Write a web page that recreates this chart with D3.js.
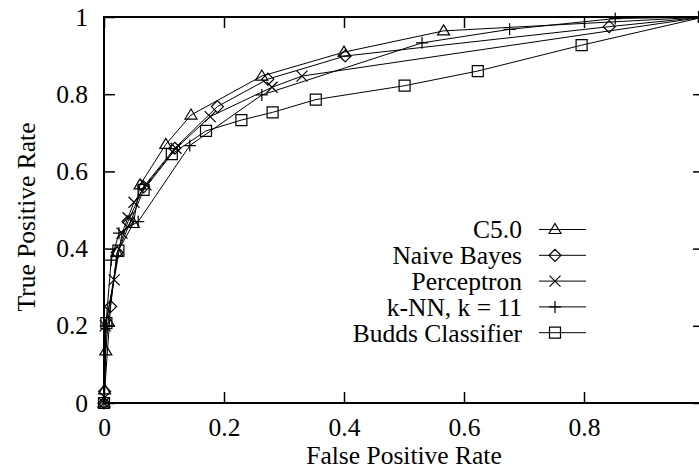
<!DOCTYPE html>
<html>
<head>
<meta charset="utf-8">
<script src="https://cdn.jsdelivr.net/npm/d3@7"></script>
<style>
  html, body { margin: 0; padding: 0; background: #fff; }
  svg { display: block; }
</style>
</head>
<body>
<svg id="chart" width="699" height="470"></svg>
<script>
// ---- data (False Positive Rate, True Positive Rate) ----
const seriesNames = ["C5.0", "Naive Bayes", "Perceptron", "k-NN, k = 11", "Budds Classifier"];
const seriesSymbols = ["triangle", "diamond", "cross", "plus", "square"];

const c50Fpr = [0, 0.001, 0.003, 0.007, 0.022, 0.049, 0.060, 0.103, 0.145, 0.263, 0.400, 0.566, 1];
const c50Tpr = [0, 0.034, 0.135, 0.210, 0.390, 0.465, 0.565, 0.670, 0.746, 0.847, 0.909, 0.964, 1];

const nbFpr = [0, 0.001, 0.011, 0.022, 0.040, 0.066, 0.118, 0.189, 0.273, 0.402, 0.842, 1];
const nbTpr = [0, 0.030, 0.250, 0.390, 0.470, 0.560, 0.660, 0.768, 0.839, 0.899, 0.975, 1];

const percFpr = [0, 0.002, 0.017, 0.030, 0.040, 0.050, 0.070, 0.120, 0.177, 0.280, 0.330, 1];
const percTpr = [0, 0.200, 0.319, 0.440, 0.480, 0.520, 0.565, 0.660, 0.742, 0.818, 0.847, 1];

const knnFpr = [0, 0.003, 0.012, 0.025, 0.057, 0.143, 0.263, 0.530, 0.676, 0.852, 1];
const knnTpr = [0, 0.200, 0.370, 0.440, 0.470, 0.667, 0.798, 0.933, 0.968, 0.996, 1];

const buddsFpr = [0, 0.004, 0.024, 0.066, 0.113, 0.170, 0.229, 0.281, 0.353, 0.501, 0.623, 0.796, 1];
const buddsTpr = [0, 0.207, 0.395, 0.552, 0.645, 0.705, 0.733, 0.753, 0.786, 0.822, 0.860, 0.927, 1];

const xTickValues = [0, 0.2, 0.4, 0.6, 0.8];
const yTickValues = [0, 0.2, 0.4, 0.6, 0.8, 1];
const xTitle = "False Positive Rate";
const yTitle = "True Positive Rate";

// ---- build ----
const fprs = [c50Fpr, nbFpr, percFpr, knnFpr, buddsFpr];
const tprs = [c50Tpr, nbTpr, percTpr, knnTpr, buddsTpr];
const series = seriesNames.map((name, i) => ({
  name, symbol: seriesSymbols[i],
  points: fprs[i].map((f, j) => [f, tprs[i][j]])
}));

const FONT = "Liberation Serif";
const svg = d3.select("#chart");
const pLeft = 104, pRight = 704, pTop = 17, pBottom = 403;
const fs = 25.5;

const x = d3.scaleLinear().domain([0, 1]).range([pLeft, pRight]);
const y = d3.scaleLinear().domain([0, 1]).range([pBottom, pTop]);

// axes with inward ticks
const fmt = d3.format("~g");
const gx = svg.append("g").attr("transform", `translate(0,${pBottom})`)
  .call(d3.axisBottom(x).tickValues(xTickValues).tickFormat(fmt).tickSize(-11).tickPadding(15));
const gxt = svg.append("g").attr("transform", `translate(0,${pTop})`)
  .call(d3.axisTop(x).tickValues(xTickValues).tickFormat("").tickSize(-11));
const gy = svg.append("g").attr("transform", `translate(${pLeft},0)`)
  .call(d3.axisLeft(y).tickValues(yTickValues).tickFormat(fmt).tickSize(-11).tickPadding(16));
const gyr = svg.append("g").attr("transform", `translate(${pRight},0)`)
  .call(d3.axisRight(y).tickValues(yTickValues).tickFormat("").tickSize(-11));

[gx, gxt, gy, gyr].forEach(g => {
  g.attr("font-family", FONT).attr("font-size", fs);
  g.select(".domain").remove();
  g.selectAll(".tick line").attr("stroke", "#000").attr("stroke-width", 1.5);
  g.selectAll(".tick text").attr("font-family", FONT).attr("font-size", fs).attr("fill", "#000");
});

// frame
svg.append("rect").attr("x", pLeft).attr("y", pTop)
  .attr("width", pRight - pLeft).attr("height", pBottom - pTop)
  .attr("fill", "none").attr("stroke", "#000").attr("stroke-width", 2);

// axis titles
svg.append("text").attr("x", (pLeft + pRight) / 2).attr("y", 464)
  .attr("text-anchor", "middle").attr("font-family", FONT).attr("font-size", fs).text(xTitle);
svg.append("text").attr("transform", `translate(35,${(pTop + pBottom) / 2 + 7}) rotate(-90)`)
  .attr("text-anchor", "middle").attr("font-family", FONT).attr("font-size", fs).text(yTitle);

// symbol paths
function symbolPath(type) {
  switch (type) {
    case "triangle": return "M0,-6L6,4L-6,4Z";
    case "diamond": return "M0,-6L6,0L0,6L-6,0Z";
    case "cross": return "M-5.5,-5.5L5.5,5.5M-5.5,5.5L5.5,-5.5";
    case "plus": return "M-6,0L6,0M0,-6L0,6";
    case "square": return "M-5.5,-5.5H5.5V5.5H-5.5Z";
  }
}

const line = d3.line().x(d => x(d[0])).y(d => y(d[1]));
const plot = svg.append("g");
series.forEach(s => {
  const g = plot.append("g");
  g.append("path").attr("d", line(s.points))
    .attr("fill", "none").attr("stroke", "#000").attr("stroke-width", 1);
  g.selectAll("path.m").data(s.points).join("path").attr("class", "m")
    .attr("transform", d => `translate(${x(d[0])},${y(d[1])})`)
    .attr("d", symbolPath(s.symbol))
    .attr("fill", "none").attr("stroke", "#000").attr("stroke-width", 1.2);
});

// legend
const legY0 = 229.5, legDy = 25.8;
const leg = svg.append("g");
series.forEach((s, i) => {
  const yy = legY0 + i * legDy;
  leg.append("text").attr("x", 522).attr("y", yy).attr("dy", "0.35em")
    .attr("text-anchor", "end").attr("font-family", FONT).attr("font-size", fs).text(s.name);
  leg.append("line").attr("x1", 539).attr("x2", 586).attr("y1", yy).attr("y2", yy)
    .attr("stroke", "#000").attr("stroke-width", 1);
  leg.append("path").attr("transform", `translate(555,${yy})`)
    .attr("d", symbolPath(s.symbol))
    .attr("fill", "none").attr("stroke", "#000").attr("stroke-width", 1.2);
});
</script>
</body>
</html>
